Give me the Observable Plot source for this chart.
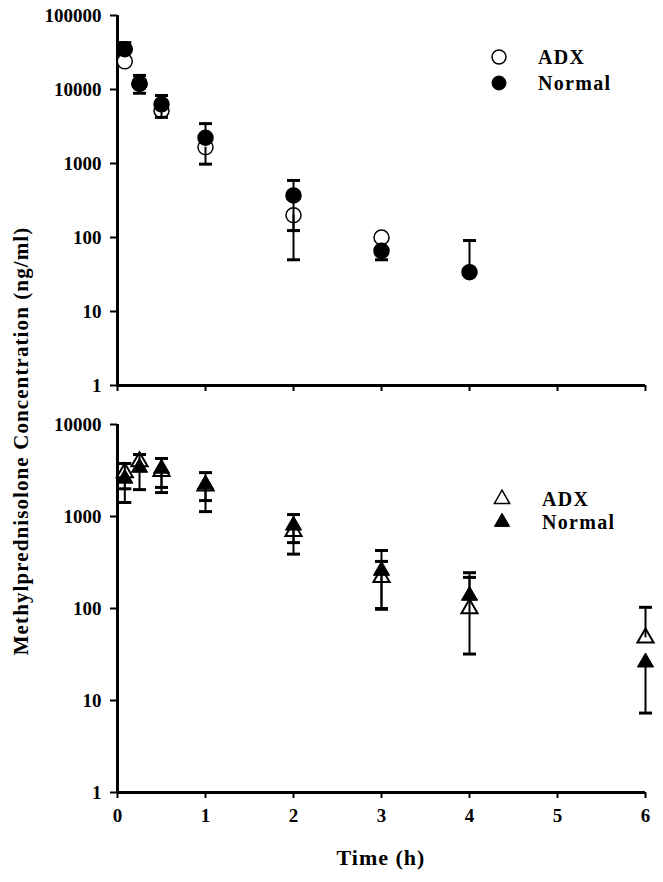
<!DOCTYPE html>
<html><head><meta charset="utf-8">
<script src="https://cdn.jsdelivr.net/npm/d3@7"></script>
<script src="https://cdn.jsdelivr.net/npm/@observablehq/plot@0.6"></script>
<style>
body{margin:0;background:#fff;}
#wrap{position:relative;width:663px;height:882px;font-family:"Liberation Serif","Times New Roman",serif;font-weight:bold;color:#000;overflow:hidden;}
#top{position:absolute;left:0;top:0;}
#bottom{position:absolute;left:0;top:400px;}
#ytitle{position:absolute;left:21px;top:441px;transform:translate(-50%,-50%) rotate(-90deg);white-space:nowrap;font-size:21px;letter-spacing:1.1px;}
#xtitle{position:absolute;left:381px;top:858px;transform:translate(-50%,-50%);white-space:nowrap;font-size:22px;letter-spacing:1px;}
.leg{position:absolute;white-space:nowrap;font-size:20px;letter-spacing:1.3px;transform:translateY(-50%);}
.legsym{position:absolute;}
</style></head><body>
<div id="wrap">
<div id="top"></div><div id="bottom"></div>
<div id="ytitle">Methylprednisolone Concentration (ng/ml)</div>
<div id="xtitle">Time (h)</div>
</div>
<script>
const seriesNames = ["ADX", "Normal"];
const xTicks = [0, 1, 2, 3, 4, 5, 6];
const topYTicks = [1, 10, 100, 1000, 10000, 100000];
const bottomYTicks = [1, 10, 100, 1000, 10000];

// Top panel (circles)
const topAdxTime = [0.083, 0.25, 0.5, 1, 2, 3];
const topAdxConc = [24000, 12000, 5200, 1660, 200, 100];
const topAdxLow  = [null, null, 4200, 980, 50, null];
const topAdxHigh = [null, null, null, null, null, null];
const topNormTime = [0.083, 0.25, 0.5, 1, 2, 3, 4];
const topNormConc = [35000, 12000, 6300, 2230, 370, 66, 34];
const topNormLow  = [null, 8900, null, null, 124, 50, null];
const topNormHigh = [43000, 15500, 8300, 3460, 590, null, 91];

// Bottom panel (triangles)
const botTime = [0.083, 0.25, 0.5, 1, 2, 3, 4, 6];
const botAdxConc = [3000, 3960, 3100, 2150, 690, 218, 100, 48];
const botAdxLow  = [1420, 1960, 1820, 1130, 390, 98, 32, null];
const botAdxHigh = [3770, 4720, null, null, null, 325, 218, 103];
const botNormConc = [2590, 3400, 3320, 2230, 800, 258, 138, 26];
const botNormLow  = [2000, null, 2070, 1490, 520, 100, null, 7.3];
const botNormHigh = [null, null, 4270, 3000, 1050, 427, 245, null];

const pts = (time, conc) => time.map((t, i) => ({t, c: conc[i]}));
const bars = (time, conc, ends) => time.map((t, i) => ({t, c: conc[i], e: ends[i]})).filter(d => d.e != null);

const capSymbol = {draw(ctx, size) { const r = Math.sqrt(size / Math.PI); ctx.moveTo(-r, 0); ctx.lineTo(r, 0); }};

const fontStyle = {fontFamily: '"Liberation Serif","Times New Roman",serif', fontSize: "19px", fontWeight: "bold", color: "black", background: "white", overflow: "visible"};

function errMarks(b) {
  return [
    Plot.ruleX(b, {x: "t", y1: "c", y2: "e", stroke: "black", strokeWidth: 2}),
    Plot.dot(b, {x: "t", y: "e", symbol: capSymbol, r: 6.5, stroke: "black", fill: "none", strokeWidth: 3})
  ];
}

const topPlot = Plot.plot({
  width: 663, height: 400,
  marginLeft: 117, marginRight: 18, marginTop: 15, marginBottom: 15,
  style: fontStyle,
  x: {domain: [0, 6]},
  y: {type: "log", domain: [1, 100000]},
  marks: [
    Plot.axisY({ticks: topYTicks, tickFormat: d => String(d), tickSize: 7, tickPadding: 9, strokeWidth: 2, label: null}),
    Plot.axisX({ticks: xTicks, tickFormat: () => "", tickSize: 6, strokeWidth: 2, label: null}),
    Plot.ruleX([0], {stroke: "black", strokeWidth: 3}),
    Plot.ruleY([1], {stroke: "black", strokeWidth: 3}),
    Plot.dot(pts(topAdxTime, topAdxConc), {x: "t", y: "c", r: 7.5, fill: "white", stroke: "black", strokeWidth: 1.5}),
    ...errMarks(bars(topAdxTime, topAdxConc, topAdxLow)),
    ...errMarks(bars(topAdxTime, topAdxConc, topAdxHigh)),
    ...errMarks(bars(topNormTime, topNormConc, topNormLow)),
    ...errMarks(bars(topNormTime, topNormConc, topNormHigh)),
    Plot.dot(pts(topNormTime, topNormConc), {x: "t", y: "c", r: 7.5, fill: "black", stroke: "black"})
  ]
});
document.getElementById("top").append(topPlot);

const bottomPlot = Plot.plot({
  width: 663, height: 482,
  marginLeft: 117, marginRight: 18, marginTop: 24, marginBottom: 90,
  style: fontStyle,
  x: {domain: [0, 6]},
  y: {type: "log", domain: [1, 10000]},
  marks: [
    Plot.axisY({ticks: bottomYTicks, tickFormat: d => String(d), tickSize: 7, tickPadding: 9, strokeWidth: 2, label: null}),
    Plot.axisX({ticks: xTicks, tickFormat: d => String(d), tickSize: 6, tickPadding: 10, strokeWidth: 2, label: null}),
    Plot.ruleX([0], {stroke: "black", strokeWidth: 3}),
    Plot.ruleY([1], {stroke: "black", strokeWidth: 3}),
    Plot.dot(pts(botTime, botAdxConc), {x: "t", y: "c", symbol: "triangle", r: 6, fill: "white", stroke: "black", strokeWidth: 2}),
    ...errMarks(bars(botTime, botAdxConc, botAdxLow)),
    ...errMarks(bars(botTime, botAdxConc, botAdxHigh)),
    ...errMarks(bars(botTime, botNormConc, botNormLow)),
    ...errMarks(bars(botTime, botNormConc, botNormHigh)),
    Plot.dot(pts(botTime, botNormConc), {x: "t", y: "c", symbol: "triangle", r: 6, fill: "black", stroke: "black", strokeWidth: 1})
  ]
});
document.getElementById("bottom").append(bottomPlot);

// Legends
const wrap = document.getElementById("wrap");
function legendItem(cx, cy, type, size, filled, label, textX) {
  const s = 24;
  const svg = d3.create("svg").attr("class", "legsym").attr("width", s).attr("height", s)
    .style("left", (cx - s / 2) + "px").style("top", (cy - s / 2) + "px");
  svg.append("path").attr("transform", `translate(${s / 2},${s / 2})`)
    .attr("d", d3.symbol(type, size)())
    .attr("fill", filled ? "black" : "white").attr("stroke", "black").attr("stroke-width", filled ? 1 : 1.5);
  wrap.append(svg.node());
  const div = document.createElement("div");
  div.className = "leg";
  div.style.left = textX + "px";
  div.style.top = cy + "px";
  div.textContent = label;
  wrap.append(div);
}
legendItem(499, 57, d3.symbolCircle, Math.PI * 49, false, seriesNames[0], 538);
legendItem(499, 83, d3.symbolCircle, Math.PI * 49, true, seriesNames[1], 538);
legendItem(502, 499, d3.symbolTriangle, 100, false, seriesNames[0], 542);
legendItem(502, 522, d3.symbolTriangle, 100, true, seriesNames[1], 542);
</script>
</body></html>
